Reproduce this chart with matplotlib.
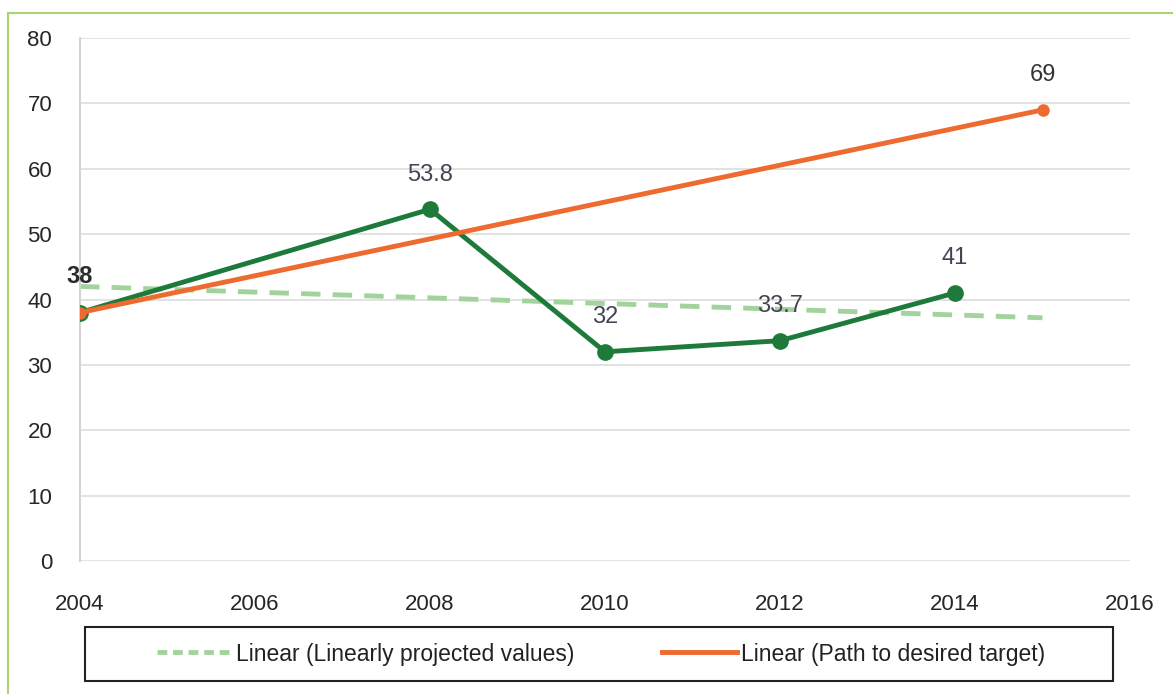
import matplotlib.pyplot as plt
from matplotlib.lines import Line2D
from matplotlib.patches import Rectangle

years = [2004, 2008, 2010, 2012, 2014]
values = [38, 53.8, 32, 33.7, 41]
labels = ['38', '53.8', '32', '33.7', '41']

trend_years = [2004, 2015]
projected = [42, 37.2]
target = [38, 69]

dark_green = '#1d7a3a'
orange = '#ee6a2e'
light_green = '#a3d39c'

plt.rcParams['font.family'] = ['Liberation Sans', 'DejaVu Sans']

fig = plt.figure(figsize=(11.73, 6.94), dpi=100)
ax = fig.add_axes([80 / 1173, 1 - 561 / 694, 1050 / 1173, 523 / 694])

# green frame around the chart
fig.add_artist(Line2D([8 / 1173, 8 / 1173], [0, 1 - 13 / 694], transform=fig.transFigure, color='#a9d46f', lw=1.5))
fig.add_artist(Line2D([8 / 1173, 1], [1 - 13 / 694, 1 - 13 / 694], transform=fig.transFigure, color='#a9d46f', lw=1.5))

ax.plot(trend_years, projected, color=light_green, lw=3.5, ls=(0, (4, 2.5)), zorder=2)
ax.plot(years, values, color=dark_green, lw=3.5, marker='o', ms=11, zorder=3)
ax.plot(trend_years, target, color=orange, lw=3.5, zorder=4)
ax.plot(trend_years, target, color=orange, lw=0, marker='o', ms=8, zorder=4)

for x, y, t in zip(years, values, labels):
    if x == 2004:
        ax.text(x, y + 3.8, t, ha='center', va='bottom', fontsize=17, color='#2a2a2a', fontweight='bold')
    else:
        ax.text(x, y + 3.6, t, ha='center', va='bottom', fontsize=17, color='#444452')
ax.text(2015, 69 + 3.6, '69', ha='center', va='bottom', fontsize=17, color='#333333')

ax.set_xlim(2004, 2016)
ax.set_ylim(0, 80)
ax.set_xticks(range(2004, 2017, 2))
ax.set_yticks(range(0, 81, 10))
ax.tick_params(length=0, labelsize=16, colors='#262626')
ax.tick_params(axis='x', pad=24)
ax.tick_params(axis='y', pad=20)
ax.grid(axis='y', color='#dddddd', lw=1.2)
ax.set_axisbelow(True)
for s in ['top', 'right', 'bottom']:
    ax.spines[s].set_visible(False)
ax.spines['left'].set_color('#d4d4d4')
ax.spines['left'].set_linewidth(1.5)

handles = [
    Line2D([], [], color=light_green, lw=3.5, ls=(0, (2, 1.2))),
    Line2D([], [], color=orange, lw=3.5),
]
leg = fig.legend(handles, ['Linear (Linearly projected values)', 'Linear (Path to desired target)'],
                 loc='center', bbox_to_anchor=(601 / 1173, 1 - 654 / 694), ncol=2, fontsize=16.5,
                 frameon=False, handlelength=3.3, handletextpad=0.15, columnspacing=3.8,
                 borderaxespad=0)
for t in leg.get_texts():
    t.set_color('#222222')
fig.add_artist(Rectangle((85 / 1173, 1 - 681 / 694), 1028 / 1173, 54 / 694, transform=fig.transFigure,
                         fill=False, edgecolor='#222222', lw=1.5))

fig.savefig('out.png', dpi=100)
